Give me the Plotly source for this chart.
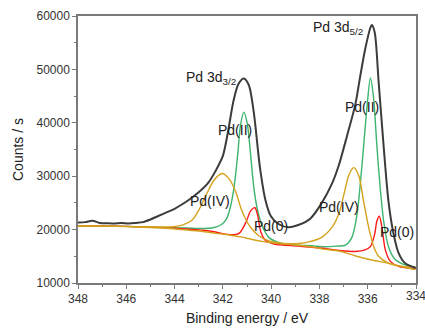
import plotly.graph_objects as go

# Pd 3d XPS spectrum: measured envelope, Shirley background and fitted components
env_be = [348.0, 347.7, 347.4, 347.1, 346.8, 346.5, 346.2, 345.9, 345.6, 345.3, 345.0, 344.7,
          344.4, 344.0, 343.7, 343.4, 343.0, 342.6, 342.3, 342.0, 341.8, 341.55, 341.35, 341.13,
          340.92, 340.72, 340.46, 340.24, 340.01, 339.68, 339.27, 338.85, 338.37, 337.90, 337.49,
          337.20, 336.86, 336.51, 336.30, 336.10, 335.89, 335.83, 335.71, 335.55, 335.34, 335.14,
          334.93, 334.72, 334.45, 334.0]
env_cps = [21350, 21400, 21650, 21250, 21200, 21150, 21250, 21150, 21250, 21400, 21900, 22500,
           23100, 23900, 24700, 25600, 27000, 28800, 31000, 33800, 38000, 44300, 47300, 48300,
           47000, 42000, 31500, 25600, 22500, 21000, 20450, 20900, 22100, 25000, 28500,
           32000, 37500, 43500, 49000, 53900, 57800, 58300, 56900, 47800, 35600, 25300,
           19200, 15600, 13700, 12800]

bg_be = [348.0, 347.0, 346.0, 345.05, 344.2, 343.68, 342.9, 342.28, 341.74, 341.2, 340.92, 340.38,
         339.68, 338.98, 338.3, 337.90, 337.20, 336.8, 336.50, 335.84, 335.14, 334.52, 334.02]
bg_cps = [20700, 20650, 20550, 20400, 20200, 20000, 19700, 19300, 19000, 18600, 18300, 17800,
          17400, 17100, 16750, 16400, 16000, 15500, 15050, 14300, 13700, 13000, 12500]

pd4_be = [348.0, 346.0, 345.0, 344.22, 343.68, 343.27, 342.98, 342.69, 342.36, 342.03, 341.74,
          341.46, 341.25, 341.04, 340.83, 340.50, 340.09, 339.68, 339.27, 338.85, 338.44, 337.89,
          337.48, 337.20, 336.99, 336.79, 336.58, 336.37, 336.17, 335.96, 335.75, 335.55, 335.14,
          334.72, 334.03]
pd4_cps = [20720, 20600, 20500, 20500, 20850, 21800, 23800, 26500, 29300, 30500, 29500,
           27000, 24000, 21800, 20300, 18800, 17900, 17500, 17350, 17400, 17700, 18600,
           20400, 22900, 26500, 30100, 31600, 30100, 25300, 20400, 16800, 15000, 13700,
           13200, 12950]

pd2_be = [348.0, 346.0, 345.0, 343.5, 342.98, 342.36, 342.07, 341.86, 341.70, 341.54, 341.39,
          341.27, 341.13, 340.99, 340.86, 340.72, 340.58, 340.38, 340.09, 339.55, 338.85, 338.24,
          337.89, 337.3, 336.92, 336.65, 336.44, 336.30, 336.17, 336.03, 335.89, 335.76, 335.62,
          335.48, 335.34, 335.14, 334.86, 334.45, 334.03]
pd2_cps = [20720, 20600, 20450, 20300, 20200, 20400, 20900, 21900, 24000, 27800, 33800,
           39500, 42000, 39900, 34500, 28000, 24000, 20800, 18500, 17400, 17100, 16950,
           16800, 16900, 17100, 18600, 22900, 28900, 35600, 42900, 48400, 44800, 35600,
           27700, 21600, 16800, 14400, 13400, 13000]

pd0_be = [348.0, 346.0, 344.0, 342.5, 341.74, 341.33, 341.05, 340.85, 340.67, 340.56, 340.43,
          340.22, 339.88, 338.85, 337.90, 337.20, 336.51, 336.10, 335.89, 335.71, 335.62, 335.52,
          335.41, 335.27, 335.07, 334.72, 334.03]
pd0_cps = [20720, 20600, 20250, 19700, 19050, 19300, 21300, 23500, 24100, 22700, 19600,
           17900, 17300, 16900, 16500, 16100, 15900, 16200, 16800, 19200, 21600, 22500,
           20400, 16200, 14100, 13100, 12650]

x_ticks = [348, 346, 344, 342, 340, 338, 336, 334]
y_ticks = [10000, 20000, 30000, 40000, 50000, 60000]

GOLD = "#d4a21c"
GREEN = "#3cb46e"
RED = "#ff1a1a"
DARK = "#3c3c3c"
AXIS = "#7a7a7a"
FONT = "Liberation Sans, Arial, sans-serif"

fig = go.Figure()

def curve(x, y, color, width):
    fig.add_trace(go.Scatter(x=x, y=y, mode="lines",
                             line=dict(color=color, width=width, shape="spline", smoothing=0.8),
                             showlegend=False, hoverinfo="skip"))

curve(pd2_be, pd2_cps, GREEN, 1.4)
curve(pd0_be, pd0_cps, RED, 1.4)
curve(pd4_be, pd4_cps, GOLD, 1.4)
curve(bg_be, bg_cps, GOLD, 1.4)
curve(env_be, env_cps, DARK, 2.0)

label_font = dict(family=FONT, size=14, color="#222")
labels = [
    (342.50, 48300, "Pd 3d<sub>3/2</sub>"),
    (337.22, 57700, "Pd 3d<sub>5/2</sub>"),
    (341.50, 38700, "Pd(II)"),
    (342.55, 25300, "Pd(IV)"),
    (340.00, 20700, "Pd(0)"),
    (337.20, 24300, "Pd(IV)"),
    (336.25, 43000, "Pd(II)"),
    (334.80, 19600, "Pd(0)"),
]
for x, y, t in labels:
    fig.add_annotation(x=x, y=y, text=t, showarrow=False, font=label_font,
                       xanchor="center", yanchor="middle")

# the last x tick label sits on the right edge of the page and is allowed to run off it
fig.add_annotation(x=x_ticks[-1], xref="x", y=0, yref="paper", text=str(x_ticks[-1]),
                   showarrow=False, xanchor="center", yanchor="top", yshift=-4,
                   font=dict(family=FONT, size=12, color="#333"))

axis_common = dict(
    showline=True, linecolor=AXIS, linewidth=1.5, mirror=True,
    ticks="outside", ticklen=4, tickwidth=1, tickcolor=AXIS,
    showgrid=False, zeroline=False,
    tickfont=dict(family=FONT, size=12, color="#333"),
    title_font=dict(family=FONT, size=14, color="#222"),
)

fig.update_xaxes(range=[348, 334], tickmode="array", tickvals=x_ticks,
                 ticktext=[str(v) for v in x_ticks],
                 minor=dict(dtick=1, tick0=334, ticks="outside", ticklen=2, tickcolor=AXIS),
                 title_text="Binding energy / eV", title_standoff=8, **axis_common)
fig.update_yaxes(range=[10000, 60000], tickmode="array", tickvals=y_ticks,
                 ticktext=[str(v) for v in y_ticks],
                 minor=dict(dtick=5000, tick0=10000, ticks="outside", ticklen=2, tickcolor=AXIS),
                 title_text="Counts / s", title_standoff=10, **axis_common)

fig.update_layout(
    width=425, height=331,
    margin=dict(l=78, r=7, t=16, b=41),
    plot_bgcolor="white", paper_bgcolor="white",
)

fig.write_html("out.html")
